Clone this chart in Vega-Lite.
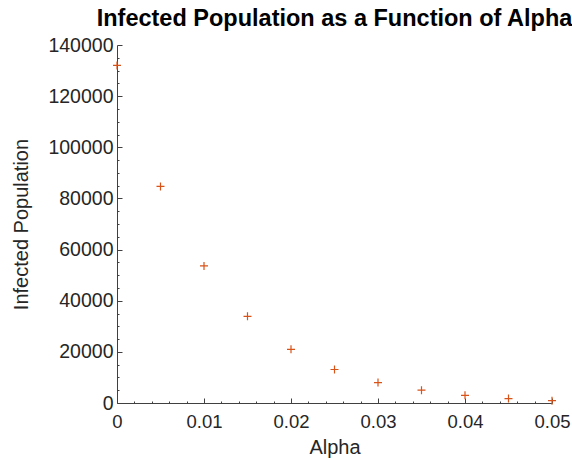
{
  "$schema": "https://vega.github.io/schema/vega-lite/v6.json",
  "width": 435,
  "height": 358,
  "autosize": {"type": "none"},
  "padding": {"left": 117, "top": 45, "right": 20, "bottom": 55},
  "background": "white",
  "title": {
    "text": "Infected Population as a Function of Alpha",
    "font": "Liberation Sans",
    "fontSize": 23.5,
    "fontWeight": "bold",
    "color": "#000000",
    "anchor": "middle",
    "offset": 5
  },
  "data": {
    "values": [
      {"alpha": 0.0, "infected": 132000},
      {"alpha": 0.005, "infected": 84700},
      {"alpha": 0.01, "infected": 53600},
      {"alpha": 0.015, "infected": 33900},
      {"alpha": 0.02, "infected": 21000},
      {"alpha": 0.025, "infected": 13100},
      {"alpha": 0.03, "infected": 8000},
      {"alpha": 0.035, "infected": 5000},
      {"alpha": 0.04, "infected": 3000},
      {"alpha": 0.045, "infected": 1750},
      {"alpha": 0.05, "infected": 900}
    ]
  },
  "resolve": {"axis": {"x": "independent", "y": "independent"}},
  "layer": [
    {
      "mark": {
        "type": "point",
        "shape": "M-1,0L1,0M0,-1L0,1",
        "filled": false,
        "stroke": "#D95319",
        "strokeWidth": 1,
        "size": 64,
        "opacity": 0,
        "clip": false
      },
      "encoding": {
        "x": {
          "field": "alpha",
          "type": "quantitative",
          "scale": {"domain": [0, 0.05], "nice": false, "zero": false},
          "axis": {
            "orient": "bottom",
            "title": null,
            "labels": false,
            "domain": false,
            "tickSize": -2,
            "values": [0.002, 0.004, 0.006, 0.008, 0.012, 0.014, 0.016, 0.018, 0.022, 0.024, 0.026, 0.028, 0.032, 0.034, 0.036, 0.038, 0.042, 0.044, 0.046, 0.048]
          }
        },
        "y": {
          "field": "infected",
          "type": "quantitative",
          "scale": {"domain": [0, 140000], "nice": false},
          "axis": {
            "orient": "left",
            "title": null,
            "labels": false,
            "domain": false,
            "tickSize": -2,
            "values": [5000, 10000, 15000, 25000, 30000, 35000, 45000, 50000, 55000, 65000, 70000, 75000, 85000, 90000, 95000, 105000, 110000, 115000, 125000, 130000, 135000]
          }
        }
      }
    },
    {
      "mark": {
        "type": "point",
        "shape": "M-1,0L1,0M0,-1L0,1",
        "filled": false,
        "stroke": "#D95319",
        "strokeWidth": 1.2,
        "size": 64,
        "opacity": 1,
        "clip": false
      },
      "encoding": {
        "x": {
          "field": "alpha",
          "type": "quantitative",
          "scale": {"domain": [0, 0.05], "nice": false, "zero": false},
          "axis": {
            "orient": "bottom",
            "title": "Alpha",
            "values": [0, 0.01, 0.02, 0.03, 0.04, 0.05],
            "format": "~g",
            "tickSize": -5,
            "labelPadding": 14,
            "titlePadding": 7
          }
        },
        "y": {
          "field": "infected",
          "type": "quantitative",
          "scale": {"domain": [0, 140000], "nice": false},
          "axis": {
            "orient": "left",
            "title": "Infected Population",
            "values": [0, 20000, 40000, 60000, 80000, 100000, 120000, 140000],
            "format": "d",
            "tickSize": -5,
            "labelPadding": 9,
            "labelFontSize": 19.5,
            "titlePadding": 16
          }
        }
      }
    }
  ],
  "config": {
    "view": {"stroke": null},
    "axis": {
      "grid": false,
      "domainColor": "#404040",
      "domainWidth": 1,
      "tickColor": "#404040",
      "tickWidth": 1,
      "labelFont": "Liberation Sans",
      "labelFontSize": 18.5,
      "labelColor": "#262626",
      "labelOverlap": false,
      "labelFlush": false,
      "titleFont": "Liberation Sans",
      "titleFontSize": 20,
      "titleFontWeight": "normal",
      "titleColor": "#262626"
    }
  }
}
